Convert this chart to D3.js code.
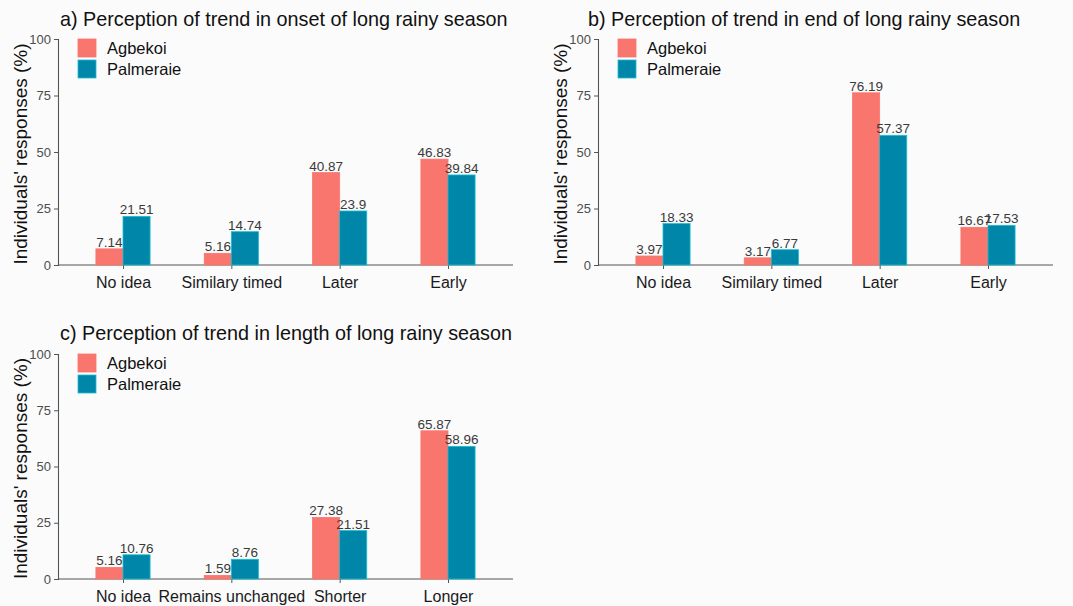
<!DOCTYPE html>
<html>
<head>
<meta charset="utf-8">
<script src="https://cdn.jsdelivr.net/npm/d3@7"></script>
<style>
  html, body { margin: 0; padding: 0; background: #fbfbfb; }
  svg { display: block; font-family: Arial, "Liberation Sans", sans-serif; }
</style>
</head>
<body>
<svg id="chart" width="1073" height="606"></svg>
<script>
// Survey results: share of respondents per perceived trend, by village
const seriesNames = ["Agbekoi", "Palmeraie"];
const seriesColors = ["#F8766D", "#0086A8"];
const seriesStroke = ["#F8766D", "#19BFD0"];

const onsetCategories = ["No idea", "Similary timed", "Later", "Early"];
const onsetAgbekoi = [7.14, 5.16, 40.87, 46.83];
const onsetPalmeraie = [21.51, 14.74, 23.9, 39.84];

const endCategories = ["No idea", "Similary timed", "Later", "Early"];
const endAgbekoi = [3.97, 3.17, 76.19, 16.67];
const endPalmeraie = [18.33, 6.77, 57.37, 17.53];

const lengthCategories = ["No idea", "Remains unchanged", "Shorter", "Longer"];
const lengthAgbekoi = [5.16, 1.59, 27.38, 65.87];
const lengthPalmeraie = [10.76, 8.76, 21.51, 58.96];

const yTicks = [0, 25, 50, 75, 100];
const yLabel = "Individuals' responses (%)";

const panels = [
  { title: "a) Perception of trend in onset of long rainy season",
    cats: onsetCategories, vals: [onsetAgbekoi, onsetPalmeraie],
    left: 58, right: 513, top: 39, bottom: 265, titleX: 60, titleY: 26, labelX: 20 },
  { title: "b) Perception of trend in end of long rainy season",
    cats: endCategories, vals: [endAgbekoi, endPalmeraie],
    left: 598, right: 1053, top: 39, bottom: 265, titleX: 588, titleY: 26, labelX: 560 },
  { title: "c) Perception of trend in length of long rainy season",
    cats: lengthCategories, vals: [lengthAgbekoi, lengthPalmeraie],
    left: 58, right: 513, top: 354, bottom: 579, titleX: 60, titleY: 340, labelX: 20 }
];

const svg = d3.select("#chart");

panels.forEach(p => {
  const g = svg.append("g");
  const x = d3.scalePoint().domain(p.cats).range([p.left, p.right]).padding(0.6);
  const y = d3.scaleLinear().domain([0, 100]).range([p.bottom, p.top]);
  const barW = x.step() * 0.25;

  // title
  g.append("text")
    .attr("x", p.titleX).attr("y", p.titleY)
    .attr("font-size", 19.8).attr("fill", "#111")
    .text(p.title);

  // y axis
  const yAxis = g.append("g")
    .attr("transform", `translate(${p.left},0)`)
    .call(d3.axisLeft(y).tickValues(yTicks).tickSize(4).tickPadding(3));
  yAxis.select(".domain").attr("stroke", "#555").attr("stroke-width", 1.1);
  yAxis.selectAll(".tick line").attr("stroke", "#555");
  yAxis.selectAll(".tick text").attr("font-size", 13).attr("fill", "#4d4d4d")
    .attr("font-family", "Arial, 'Liberation Sans', sans-serif");

  // x axis
  const xAxis = g.append("g")
    .attr("transform", `translate(0,${p.bottom})`)
    .call(d3.axisBottom(x).tickSize(4).tickPadding(8));
  xAxis.select(".domain").attr("stroke", "#555").attr("stroke-width", 1.1)
    .attr("d", `M${p.left},0H${p.right}`);
  xAxis.selectAll(".tick line").attr("stroke", "#555");
  xAxis.selectAll(".tick text").attr("font-size", 16).attr("fill", "#1a1a1a")
    .attr("font-family", "Arial, 'Liberation Sans', sans-serif");

  // y label
  g.append("text")
    .attr("transform", `translate(${p.labelX},${(p.top + p.bottom) / 2 + 2}) rotate(-90)`)
    .attr("text-anchor", "middle").attr("dominant-baseline", "central")
    .attr("font-size", 19).attr("fill", "#111")
    .text(yLabel);

  // bars and value labels
  seriesNames.forEach((s, si) => {
    const vals = p.vals[si];
    g.append("g").selectAll("rect")
      .data(p.cats)
      .join("rect")
      .attr("x", (c) => x(c) + (si === 0 ? -barW : 0))
      .attr("y", (c, i) => y(vals[i]))
      .attr("width", barW)
      .attr("height", (c, i) => p.bottom - y(vals[i]))
      .attr("fill", seriesColors[si])
      .attr("stroke", seriesStroke[si]).attr("stroke-width", 0.8);
    g.append("g").selectAll("text")
      .data(p.cats)
      .join("text")
      .attr("x", (c) => x(c) + (si === 0 ? -barW / 2 : barW / 2))
      .attr("y", (c, i) => y(vals[i]) - 2)
      .attr("text-anchor", "middle")
      .attr("font-size", 13.5).attr("fill", "#3a3a3a")
      .text((c, i) => vals[i]);
  });

  // legend
  const lg = g.append("g").attr("transform", `translate(${p.left + 20},${p.top})`);
  seriesNames.forEach((s, si) => {
    lg.append("rect")
      .attr("x", 0).attr("y", si * 21).attr("width", 18).attr("height", 18)
      .attr("fill", seriesColors[si])
      .attr("stroke", seriesStroke[si]).attr("stroke-width", 0.8);
    lg.append("text")
      .attr("x", 29).attr("y", si * 21 + 9)
      .attr("dominant-baseline", "central")
      .attr("font-size", 16.5).attr("fill", "#111")
      .text(s);
  });
});
</script>
</body>
</html>
